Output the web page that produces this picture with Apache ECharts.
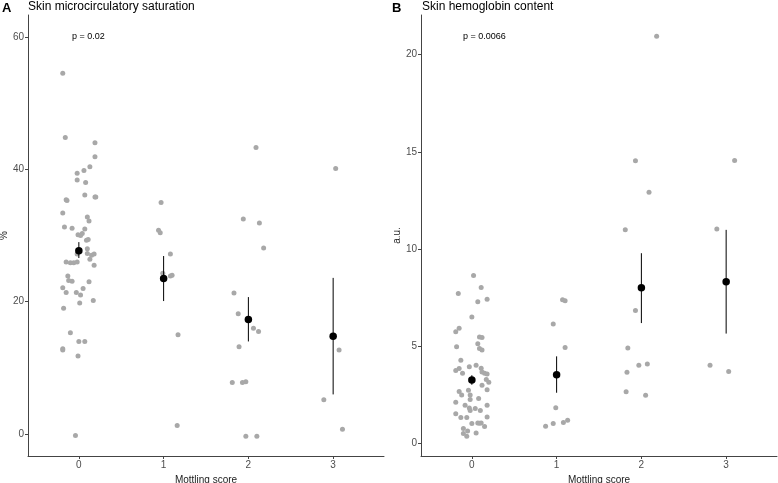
<!DOCTYPE html>
<html><head><meta charset="utf-8">
<script src="https://cdn.jsdelivr.net/npm/echarts@6/dist/echarts.min.js"></script>
<style>html,body{margin:0;padding:0;background:#fff;overflow:hidden}#c{width:778px;height:483px}</style>
</head><body><div id="c"></div>
<script>
// ---------- Data ----------
const scoreTicks = [0, 1, 2, 3];
const satTicks = [0, 20, 40, 60];
const hbTicks = [0, 5, 10, 15, 20];

// Panel A: skin microcirculatory saturation (%), by mottling score
const sat0 = [54.5,44.8,44.0,41.9,40.4,39.8,39.4,38.4,38.0,36.1,35.8,35.8,35.4,35.3,33.4,32.8,32.2,31.3,31.1,31.0,30.1,30.0,30.3,29.3,29.4,28.0,27.3,27.0,27.2,27.2,26.4,26.0,25.9,25.9,26.0,25.5,23.9,23.2,23.1,23.0,22.1,22.0,21.4,21.4,21.0,20.2,19.8,19.0,15.3,14.0,14.0,12.9,12.7,11.8,-0.2];
const satJit0 = [-0.19,-0.16,0.19,0.19,0.13,0.06,-0.02,-0.02,0.08,0.07,0.19,0.20,-0.15,-0.14,-0.19,0.10,0.12,-0.17,-0.08,0.07,-0.01,0.02,0.04,0.09,0.11,0.10,0.10,0.15,0.18,-0.02,0.13,-0.15,-0.10,-0.06,-0.02,0.18,-0.13,-0.12,-0.08,0.12,-0.19,0.05,-0.15,-0.03,0.02,0.17,0.01,-0.18,-0.10,0.00,0.07,-0.19,-0.19,-0.01,-0.04];
const sat1 = [35.0,30.8,30.4,27.2,24.3,23.9,24.0,15.0,1.3];
const satJit1 = [-0.03,-0.06,-0.04,0.08,-0.01,0.08,0.10,0.17,0.16];
const sat2 = [43.3,32.5,31.9,28.1,21.3,18.2,16.0,15.5,13.2,7.8,7.8,7.9,-0.3,-0.3];
const satJit2 = [0.09,-0.06,0.13,0.18,-0.17,-0.12,0.06,0.12,-0.11,-0.19,-0.07,-0.03,-0.03,0.10];
const sat3 = [40.1,12.7,5.2,0.75];
const satJit3 = [0.03,0.07,-0.11,0.11];
const satMean = [27.7, 23.5, 17.3, 14.8];
const satLow  = [26.6, 20.1, 14.0, 6.0];
const satHigh = [29.0, 26.9, 20.7, 23.6];

// Panel B: skin hemoglobin content (a.u.), by mottling score
const hb0 = [8.65,8.03,7.72,7.42,7.30,6.51,5.93,5.76,5.49,5.46,5.14,4.99,4.89,4.82,4.29,4.03,3.95,3.86,3.88,3.76,3.69,3.62,3.58,3.62,3.30,3.16,3.01,2.75,2.78,2.68,2.51,2.51,2.27,2.32,2.13,1.98,1.98,1.83,1.71,1.81,1.71,1.54,1.35,1.35,1.38,1.07,1.05,1.07,1.04,0.89,0.78,0.66,0.53,0.55,0.39];
const hbJit0 = [0.02,0.11,-0.16,0.18,0.07,0.00,-0.15,-0.19,0.09,0.12,0.07,-0.18,0.09,0.12,-0.13,0.05,-0.03,-0.15,0.11,-0.19,0.12,0.15,0.18,-0.11,0.17,0.20,0.12,-0.04,0.18,-0.15,-0.12,-0.02,-0.02,0.08,-0.19,0.18,-0.08,-0.03,-0.02,0.04,0.10,-0.19,-0.13,-0.06,0.18,0.07,0.09,0.11,0.00,0.15,-0.10,-0.05,-0.10,0.05,-0.06];
const hb1 = [7.40,7.35,6.15,4.95,1.85,1.21,1.09,1.04,0.90];
const hbJit1 = [0.07,0.10,-0.04,0.10,-0.01,0.13,0.08,-0.04,-0.13];
const hb2 = [20.94,14.54,12.92,10.99,6.85,4.92,4.10,4.03,3.67,2.67,2.49];
const hbJit2 = [0.18,-0.07,0.09,-0.19,-0.07,-0.16,0.07,-0.03,-0.17,-0.18,0.05];
const hb3 = [14.56,11.03,4.03,3.71];
const hbJit3 = [0.10,-0.11,-0.19,0.03];
const hbMean = [3.28, 3.54, 8.02, 8.32];
const hbLow  = [3.03, 2.62, 6.20, 5.66];
const hbHigh = [3.52, 4.49, 9.79, 10.99];

// ---------- Build ----------
function pts(groups, jits) {
  const out = [];
  groups.forEach((vals, g) => vals.forEach((v, i) => out.push([scoreTicks[g] + jits[g][i], v])));
  return out;
}
const satPts = pts([sat0, sat1, sat2, sat3], [satJit0, satJit1, satJit2, satJit3]);
const hbPts = pts([hb0, hb1, hb2, hb3], [hbJit0, hbJit1, hbJit2, hbJit3]);
const satErr = scoreTicks.map((s, i) => [s, satLow[i], satHigh[i]]);
const hbErr = scoreTicks.map((s, i) => [s, hbLow[i], hbHigh[i]]);
const satM = scoreTicks.map((s, i) => [s, satMean[i]]);
const hbM = scoreTicks.map((s, i) => [s, hbMean[i]]);

const FONT = 'Liberation Sans, Arial, sans-serif';
const axisLineStyle = { color: '#444', width: 1 };
function xAx(idx) {
  return {
    type: 'value', gridIndex: idx, min: -0.6, max: 3.6,
    name: 'Mottling score', nameLocation: 'middle', nameGap: 12,
    nameTextStyle: { fontFamily: FONT, fontSize: 10, color: '#222', verticalAlign: 'top' },
    axisLine: { show: true, onZero: false, lineStyle: axisLineStyle },
    axisTick: { show: true, length: 3, lineStyle: axisLineStyle, customValues: scoreTicks },
    axisLabel: { fontFamily: FONT, fontSize: 10, color: '#4d4d4d', margin: 4, customValues: scoreTicks },
    splitLine: { show: false }
  };
}
function yAx(idx, min, max, ticks, name) {
  return {
    type: 'value', gridIndex: idx, min: min, max: max,
    name: name, nameLocation: 'middle', nameRotate: 90, nameGap: 17,
    nameTextStyle: { fontFamily: FONT, fontSize: 10, color: '#222' },
    axisLine: { show: true, onZero: false, lineStyle: axisLineStyle },
    axisTick: { show: true, length: 3, lineStyle: axisLineStyle, customValues: ticks },
    axisLabel: { fontFamily: FONT, fontSize: 10, color: '#4d4d4d', margin: 4, customValues: ticks },
    splitLine: { show: false }
  };
}
function errSeries(idx, data) {
  return {
    type: 'custom', xAxisIndex: idx, yAxisIndex: idx, data: data, z: 3,
    encode: { x: 0, y: [1, 2] },
    renderItem: function (params, api) {
      const p1 = api.coord([api.value(0), api.value(1)]);
      const p2 = api.coord([api.value(0), api.value(2)]);
      return { type: 'line', shape: { x1: p1[0], y1: p1[1], x2: p2[0], y2: p2[1] },
               style: { stroke: '#000', lineWidth: 1 } };
    }
  };
}
function txt(x, y, s, font) {
  return { type: 'text', x: x, y: y, style: { text: s, font: font, fill: '#000', verticalAlign: 'middle', align: 'left' } };
}
const chart = echarts.init(document.getElementById('c'), null, { renderer: 'canvas' });
chart.setOption({
  animation: false,
  backgroundColor: '#fff',
  graphic: [
    txt(2, 8, 'A', 'bold 13px ' + FONT),
    txt(28, 7, 'Skin microcirculatory saturation', '12px ' + FONT),
    txt(392, 8, 'B', 'bold 13px ' + FONT),
    txt(422, 7, 'Skin hemoglobin content', '12px ' + FONT),
    txt(72, 37, 'p = 0.02', '9px ' + FONT),
    txt(463, 37, 'p = 0.0066', '9px ' + FONT)
  ],
  grid: [
    { left: 28, top: 15, width: 356, height: 441, outerBoundsMode: 'none', containLabel: false },
    { left: 421, top: 15, width: 356, height: 441, outerBoundsMode: 'none', containLabel: false }
  ],
  xAxis: [xAx(0), xAx(1)],
  yAxis: [yAx(0, -3.3, 63.3, satTicks, '%'), yAx(1, -0.63, 22.03, hbTicks, 'a.u.')],
  series: [
    { type: 'scatter', xAxisIndex: 0, yAxisIndex: 0, data: satPts, symbolSize: 5, itemStyle: { color: '#a8a8a8', opacity: 1 }, z: 2 },
    errSeries(0, satErr),
    { type: 'scatter', xAxisIndex: 0, yAxisIndex: 0, data: satM, symbolSize: 7.5, itemStyle: { color: '#000', opacity: 1 }, z: 4 },
    { type: 'scatter', xAxisIndex: 1, yAxisIndex: 1, data: hbPts, symbolSize: 5, itemStyle: { color: '#a8a8a8', opacity: 1 }, z: 2 },
    errSeries(1, hbErr),
    { type: 'scatter', xAxisIndex: 1, yAxisIndex: 1, data: hbM, symbolSize: 7.5, itemStyle: { color: '#000', opacity: 1 }, z: 4 }
  ]
});
</script></body></html>
